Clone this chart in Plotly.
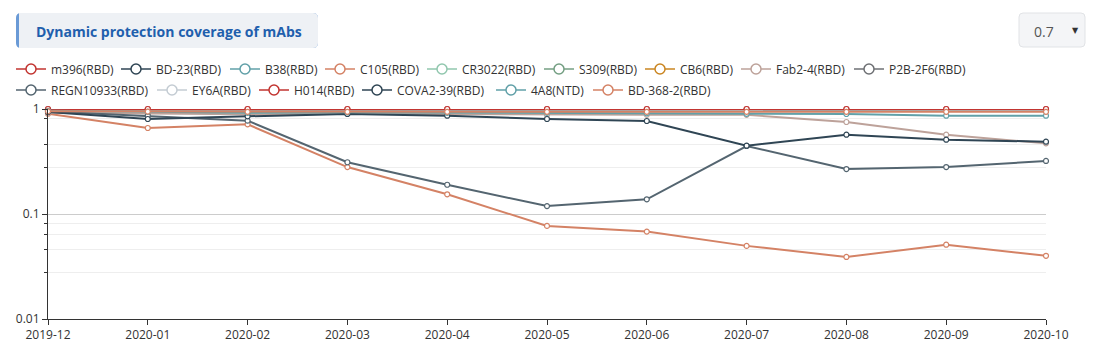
import plotly.graph_objects as go

# ---------------- data ----------------
months = ["2019-12", "2020-01", "2020-02", "2020-03", "2020-04", "2020-05",
          "2020-06", "2020-07", "2020-08", "2020-09", "2020-10"]

m396 = [1.0, 1.0, 1.0, 1.0, 1.0, 1.0, 1.0, 1.0, 1.0, 1.0, 1.0]
bd23 = [0.97, 0.96, 0.96, 0.96, 0.96, 0.96, 0.96, 0.96, 0.96, 0.96, 0.96]
b38 = [0.985, 0.98, 0.975, 0.975, 0.975, 0.975, 0.975, 0.975, 0.975, 0.975, 0.975]
c105 = [0.902, 0.659, 0.715, 0.28, 0.154, 0.077, 0.068, 0.0497, 0.039, 0.051, 0.04]
cr3022 = [0.99, 0.985, 0.98, 0.98, 0.98, 0.98, 0.98, 0.98, 0.98, 0.98, 0.98]
s309 = [0.98, 0.975, 0.97, 0.97, 0.97, 0.97, 0.97, 0.97, 0.97, 0.97, 0.97]
cb6 = [0.965, 0.96, 0.955, 0.955, 0.955, 0.955, 0.955, 0.955, 0.955, 0.955, 0.955]
fab24 = [0.92, 0.9, 0.89, 0.9, 0.89, 0.88, 0.88, 0.88, 0.752, 0.569, 0.471]
p2b2f6 = [0.975, 0.97, 0.965, 0.965, 0.965, 0.965, 0.965, 0.965, 0.965, 0.965, 0.965]
regn10933 = [0.947, 0.863, 0.774, 0.311, 0.19, 0.119, 0.138, 0.444, 0.268, 0.28, 0.32]
ey6a = [0.99, 0.99, 0.985, 0.985, 0.985, 0.985, 0.985, 0.985, 0.985, 0.985, 0.985]
h014 = [1.0, 1.0, 1.0, 1.0, 1.0, 1.0, 1.0, 1.0, 1.0, 1.0, 1.0]
cova239 = [0.936, 0.803, 0.852, 0.896, 0.863, 0.803, 0.769, 0.447, 0.569, 0.51, 0.488]
a4a8 = [0.96, 0.94, 0.92, 0.93, 0.92, 0.92, 0.91, 0.9, 0.896, 0.863, 0.863]
bd3682 = [0.95, 0.945, 0.94, 0.94, 0.94, 0.94, 0.94, 0.94, 0.94, 0.94, 0.94]

names = ["m396(RBD)", "BD-23(RBD)", "B38(RBD)", "C105(RBD)", "CR3022(RBD)", "S309(RBD)",
         "CB6(RBD)", "Fab2-4(RBD)", "P2B-2F6(RBD)", "REGN10933(RBD)", "EY6A(RBD)",
         "H014(RBD)", "COVA2-39(RBD)", "4A8(NTD)", "BD-368-2(RBD)"]
series = [m396, bd23, b38, c105, cr3022, s309, cb6, fab24, p2b2f6, regn10933, ey6a,
          h014, cova239, a4a8, bd3682]
colors = ["#c23531", "#2f4554", "#61a0a8", "#d48265", "#91c7ae", "#749f83", "#ca8622",
          "#bda29a", "#6e7074", "#546570", "#c4ccd3", "#c23531", "#2f4554", "#61a0a8",
          "#d48265"]

y_ticks = [0.01, 0.1, 1]
y_ticktext = ["0.01", "0.1", "1"]
y_minor = [0.028, 0.046, 0.064, 0.082, 0.28, 0.46, 0.82]

title_text = "Dynamic protection coverage of mAbs"
select_value = "0.7"

# ---------------- layout geometry ----------------
W, H = 1096, 348
ML, MR, MT, MB = 48, 50, 109, 29
PW, PH = W - ML - MR, H - MT - MB

# legend label start positions (px) and row centres (px)
legend_text_x = [52, 157, 266, 361, 463, 580, 681, 777, 890,
                 52, 193, 295, 398, 532, 629]
legend_row_y = [69] * 9 + [90] * 6
LEGEND_TEXT_OFFSET = 41


def px(x):
    return (x - ML) / PW


def py(y):
    return (H - MB - y) / PH


def rrect(x0, y0, x1, y1, r, left_round=True):
    # rounded rectangle in pixel coords -> paper path
    pts = []
    if left_round:
        pts.append(f"M{px(x0 + r)},{py(y0)}")
    else:
        pts.append(f"M{px(x0)},{py(y0)}")
    pts.append(f"L{px(x1 - r)},{py(y0)}")
    pts.append(f"Q{px(x1)},{py(y0)} {px(x1)},{py(y0 + r)}")
    pts.append(f"L{px(x1)},{py(y1 - r)}")
    pts.append(f"Q{px(x1)},{py(y1)} {px(x1 - r)},{py(y1)}")
    if left_round:
        pts.append(f"L{px(x0 + r)},{py(y1)}")
        pts.append(f"Q{px(x0)},{py(y1)} {px(x0)},{py(y1 - r)}")
        pts.append(f"L{px(x0)},{py(y0 + r)}")
        pts.append(f"Q{px(x0)},{py(y0)} {px(x0 + r)},{py(y0)}")
    else:
        pts.append(f"L{px(x0)},{py(y1)}")
        pts.append(f"L{px(x0)},{py(y0)}")
    pts.append("Z")
    return " ".join(pts)


fig = go.Figure()

FONT = "Open Sans, Noto Sans, sans-serif"

legend_layouts = {}
for i, (nm, vals, c) in enumerate(zip(names, series, colors)):
    grp = f"g{i}"
    lid = "legend" if i == 0 else f"legend{i + 1}"
    fig.add_trace(go.Scatter(
        x=months, y=vals, name=nm, mode="lines+markers",
        line=dict(color=c, width=2),
        marker=dict(symbol="circle", size=5, color="white", line=dict(color=c, width=1.2)),
        cliponaxis=False, showlegend=False, legendgroup=grp,
    ))
    # legend entry (bigger empty-circle icon like the original)
    fig.add_trace(go.Scatter(
        x=[None], y=[None], name=nm, mode="lines+markers",
        line=dict(color=c, width=1.5),
        marker=dict(symbol="circle", size=10, color="white", line=dict(color=c, width=1.5)),
        showlegend=True, legendgroup=grp, legend=lid,
    ))
    legend_layouts[lid] = dict(
        x=px(legend_text_x[i] - LEGEND_TEXT_OFFSET), y=py(legend_row_y[i]),
        orientation="h", xanchor="left", yanchor="middle",
        font=dict(family=FONT, size=12, color="#333333"),
        itemwidth=30, bgcolor="rgba(0,0,0,0)", itemsizing="trace",
    )

shapes = [
    dict(type="path", xref="paper", yref="paper", path=rrect(16, 13, 318, 48, 5),
         fillcolor="#6a9ad6", line=dict(width=0), layer="above"),
    dict(type="path", xref="paper", yref="paper", path=rrect(19, 13, 318, 48, 5, left_round=False),
         fillcolor="#eef1f5", line=dict(width=0), layer="above"),
    dict(type="path", xref="paper", yref="paper", path=rrect(1019, 13, 1085, 47, 4),
         fillcolor="#f4f5f7", line=dict(width=1, color="#e1e3e6"), layer="above"),
]

annotations = [
    dict(xref="paper", yref="paper", x=px(34), y=py(31), xanchor="left", yanchor="middle",
         text=f"<b>{title_text}</b>", showarrow=False,
         font=dict(family=FONT, size=14, color="#1f5fad")),
    dict(xref="paper", yref="paper", x=px(1044), y=py(31), xanchor="center", yanchor="middle",
         text=select_value, showarrow=False, font=dict(family=FONT, size=14, color="#555555")),
    dict(xref="paper", yref="paper", x=px(1075), y=py(30), xanchor="center", yanchor="middle",
         text="▼", showarrow=False, font=dict(family="DejaVu Sans", size=8, color="#333333")),
]

fig.update_layout(
    width=W, height=H,
    margin=dict(l=ML, r=MR, t=MT, b=MB, pad=0, autoexpand=False),
    paper_bgcolor="white", plot_bgcolor="white",
    font=dict(family=FONT, size=12, color="#333333"),
    showlegend=True,
    shapes=shapes, annotations=annotations,
    xaxis=dict(
        type="category", range=[0, len(months) - 1], automargin=False,
        showline=True, linecolor="#333333", linewidth=1,
        ticks="outside", ticklen=5, tickcolor="#333333",
        showgrid=False, zeroline=False,
        tickfont=dict(family=FONT, size=12, color="#333333"),
    ),
    yaxis=dict(
        type="log", range=[-2, 0], automargin=False,
        tickmode="array", tickvals=y_ticks, ticktext=y_ticktext,
        showline=True, linecolor="#333333", linewidth=1,
        ticks="outside", ticklen=5, tickcolor="#333333",
        showgrid=True, gridcolor="#cccccc", gridwidth=1,
        zeroline=False,
        tickfont=dict(family=FONT, size=12, color="#333333"),
        minor=dict(tickmode="array", tickvals=y_minor, ticks="outside", ticklen=3,
                   tickcolor="#333333", showgrid=True, gridcolor="#eeeeee", gridwidth=1),
    ),
)
fig.update_layout(**legend_layouts)

fig.write_html("out.html")
